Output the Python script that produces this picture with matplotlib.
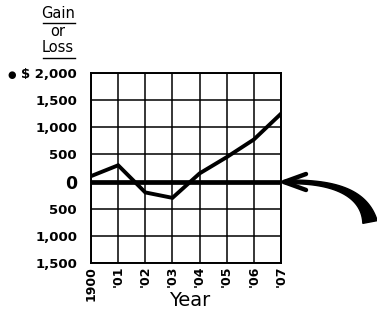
import matplotlib
matplotlib.use("Agg")
import matplotlib.pyplot as plt
from matplotlib.patches import Polygon
import numpy as np

years = [1900, 1901, 1902, 1903, 1904, 1905, 1906, 1907]
year_labels = ["1900", "'01", "'02", "'03", "'04", "'05", "'06", "'07"]
gain_loss = [100, 300, -200, -300, 150, 450, 775, 1250]
y_ticks = [2000, 1500, 1000, 500, 0, -500, -1000, -1500]
y_labels = ["$ 2,000", "1,500", "1,000", "500", "0", "500", "1,000", "1,500"]

W, H = 377, 320
fig = plt.figure(figsize=(3.77, 3.2), dpi=100)
ax = fig.add_axes([91/W, 1-263/H, 190/W, 190/H])

ax.set_xlim(1900, 1907)
ax.set_ylim(-1500, 2000)
ax.set_xticks(years)
ax.set_yticks(y_ticks)
ax.grid(True, color="black", linewidth=1.1)
ax.tick_params(length=0)
for s in ax.spines.values():
    s.set_linewidth(1.4)

ax.axhline(0, color="black", linewidth=3.4, zorder=3)
ax.plot(years, gain_loss, color="black", linewidth=2.8, zorder=4,
        solid_joinstyle="miter")

ax.set_xticklabels(year_labels, rotation=90, fontsize=9, fontweight="bold")
ax.set_yticklabels(y_labels, fontsize=9.5, fontweight="bold")
for lab in ax.get_yticklabels():
    if lab.get_text() == "0":
        lab.set_fontsize(12.5)
ax.tick_params(axis="x", pad=2)
ax.tick_params(axis="y", pad=10)

fig.text(190/W, 1-301/H, "Year", fontsize=14, ha="center", va="center")

# bullet before $
fig.text(12/W, 1-75/H, "●", fontsize=7, ha="center", va="center")

# stacked title
fig.text(58/W, 1-14/H, "Gain", fontsize=10.5, ha="center", va="center")
fig.text(58/W, 1-31/H, "or", fontsize=10.5, ha="center", va="center")
fig.text(58/W, 1-48/H, "Loss", fontsize=10.5, ha="center", va="center")
for yy in (23, 58):
    fig.add_artist(plt.Line2D([43/W, 75/W], [1-yy/H, 1-yy/H],
                              color="black", linewidth=1.0))

# curved arrow: tapered body
t = np.linspace(0, 1, 60)
P0 = np.array([285.0, 182.0]); P1 = np.array([362.0, 180.0]); P2 = np.array([370.0, 222.0])
pts = ((1-t)**2)[:, None]*P0 + (2*(1-t)*t)[:, None]*P1 + (t**2)[:, None]*P2
d = (-2*(1-t))[:, None]*P0 + (2*(1-2*t))[:, None]*P1 + (2*t)[:, None]*P2
nrm = np.stack([-d[:, 1], d[:, 0]], axis=1)
nrm /= np.linalg.norm(nrm, axis=1)[:, None]
w = 1.8 + 5.5 * t**2
left = pts + nrm*w[:, None]
right = pts - nrm*w[:, None]
poly = np.vstack([left, right[::-1]])
poly_fig = np.column_stack([poly[:, 0]/W, 1 - poly[:, 1]/H])
fig.add_artist(Polygon(poly_fig, closed=True, transform=fig.transFigure,
                       color="black"))
# arrow head
for by in (174, 190):
    fig.add_artist(plt.Line2D([284/W, 306/W], [1-182/H, 1-by/H],
                              color="black", linewidth=3.2,
                              solid_capstyle="round"))

fig.savefig("out.png", dpi=100)
